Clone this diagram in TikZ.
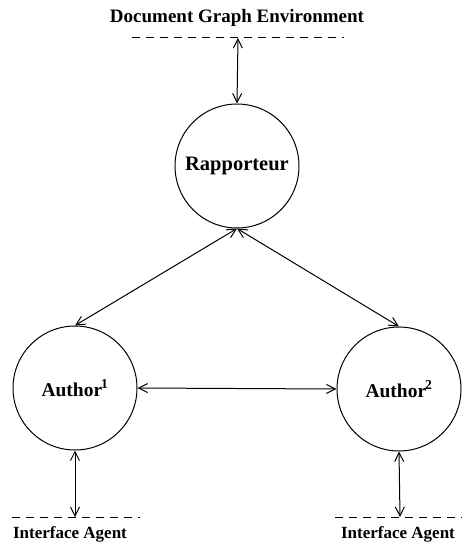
\documentclass[tikz,border=0pt]{standalone}
\usepackage{fontspec}
\setmainfont{Liberation Serif}
\usetikzlibrary{arrows.meta}
\begin{document}
\begin{tikzpicture}[x=1pt,y=-1pt,
  agent/.style={draw,circle,minimum size=124pt,inner sep=0pt,line width=1pt,font=\fontsize{19.5}{22}\selectfont\bfseries},
  label/.style={font=\fontsize{17}{20}\selectfont\bfseries,inner sep=0pt},
  link/.style={line width=1pt,{Straight Barb[length=9pt,width=9pt]}-{Straight Barb[length=9pt,width=9pt]}},
  boundary/.style={line width=1pt,dash pattern=on 8pt off 6pt}]
\useasboundingbox (0,0) rectangle (462,543);
\node[label,font=\fontsize{19}{22}\selectfont\bfseries] (doc) at (237,18) {Document Graph Environment};
\coordinate (docL) at (132,38);
\coordinate (docR) at (344,38);
\coordinate (docC) at (238,38);
\draw[boundary] (docL) -- (docR);
\node[agent,font=\fontsize{20.5}{22}\selectfont\bfseries] (rap) at (237,166) {Rapporteur};
\node[agent] (a1) at (75,388) {Author\kern-1pt\textsuperscript{1}};
\node[agent] (a2) at (399,389) {Author\kern-1pt\textsuperscript{2}};
\draw[link] (docC) -- (rap.north);
\draw[link] (rap.south) -- (a1.north);
\draw[link] (rap.south) -- (a2.north);
\draw[link] (a1.east) -- (a2.west);
\coordinate (i1L) at (12,517);
\coordinate (i1R) at (140,517);
\coordinate (i1C) at (75,517);
\draw[boundary] (i1L) -- (i1R);
\coordinate (i2L) at (335,517);
\coordinate (i2R) at (462,517);
\coordinate (i2C) at (400,517);
\draw[boundary] (i2L) -- (i2R);
\draw[link] (a1.south) -- (i1C);
\draw[link] (a2.south) -- (i2C);
\node[label] (ia1) at (70,534) {Interface Agent};
\node[label] (ia2) at (398,534) {Interface Agent};
\end{tikzpicture}
\end{document}
